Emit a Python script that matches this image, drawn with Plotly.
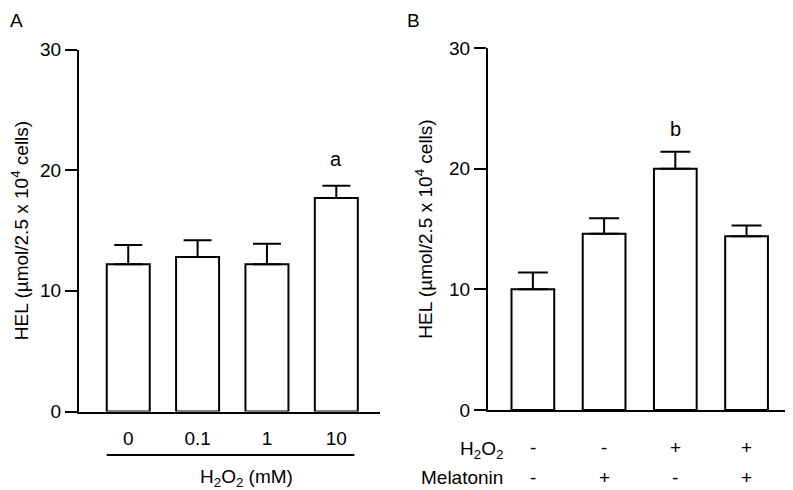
import plotly.graph_objects as go

# panel A: H2O2 dose
dose_labels = ["0", "0.1", "1", "10"]
hel_a = [12.2, 12.8, 12.2, 17.7]
err_a = [1.6, 1.4, 1.7, 1.0]

# panel B: H2O2 / melatonin
groups_b = ["ctrl", "mel", "h2o2", "h2o2_mel"]
hel_b = [10.0, 14.6, 20.0, 14.4]
err_b = [1.4, 1.3, 1.4, 0.9]
h2o2_signs = ["-", "-", "+", "+"]
mel_signs = ["-", "+", "-", "+"]

yticks = [0, 10, 20, 30]
ytitle = "HEL (\u00b5mol/2.5 x 10<sup>4</sup> cells)"
font = "Liberation Sans, Arial, sans-serif"

# page has an 8px body margin, so the figure is shrunk to fit the window
W, H, OFF = 785, 482, 8


def px(p):
    return (p - OFF) / W


def py(p):
    return 1 - (p - OFF) / H


fig = go.Figure()

fig.add_trace(go.Bar(
    x=dose_labels, y=hel_a, width=0.62,
    marker=dict(color="white", line=dict(color="black", width=2)),
    error_y=dict(type="data", symmetric=False, array=err_a, arrayminus=[0] * 4,
                 color="black", thickness=2, width=14),
    xaxis="x", yaxis="y", showlegend=False))

fig.add_trace(go.Bar(
    x=groups_b, y=hel_b, width=0.6,
    marker=dict(color="white", line=dict(color="black", width=2)),
    error_y=dict(type="data", symmetric=False, array=err_b, arrayminus=[0] * 4,
                 color="black", thickness=2, width=15),
    xaxis="x2", yaxis="y2", showlegend=False))

axis_common = dict(showgrid=False, zeroline=False, showline=True, linecolor="black",
                   linewidth=2, automargin=False, tickfont=dict(size=19, color="black"))

fig.update_layout(
    template="none",
    width=W, height=H, autosize=False,
    margin=dict(l=0, r=0, t=0, b=0, pad=0),
    paper_bgcolor="white", plot_bgcolor="white",
    font=dict(family=font, size=19, color="black"),
    xaxis=dict(domain=[px(79), px(380)], type="category", range=[-0.71, 3.63],
               ticks="", ticklabelstandoff=9, anchor="y", **axis_common),
    yaxis=dict(domain=[py(411.5), py(49.5)], range=[0, 30], tickvals=yticks,
               ticks="outside", ticklen=12, tickwidth=2, tickcolor="black",
               title=dict(text=ytitle, font=dict(size=19), standoff=11),
               anchor="x", **axis_common),
    xaxis2=dict(domain=[px(488), px(790)], type="category", range=[-0.63, 3.61],
                showticklabels=False, ticks="", anchor="y2", **axis_common),
    yaxis2=dict(domain=[py(410), py(48)], range=[0, 30], tickvals=yticks,
                ticks="outside", ticklen=12, tickwidth=2, tickcolor="black",
                title=dict(text=ytitle, font=dict(size=19), standoff=11),
                anchor="x2", **axis_common),
)

# line under dose labels
fig.add_shape(type="line", xref="x", yref="paper", x0=-0.31, x1=3.26, y0=py(455), y1=py(455),
              line=dict(color="black", width=2))

ann = []
ann.append(dict(text="H<sub>2</sub>O<sub>2</sub> (mM)", xref="x", yref="paper", x=1.71, y=py(478),
                xanchor="center", yanchor="middle", showarrow=False, font=dict(size=19)))
ann.append(dict(text="A", xref="paper", yref="paper", x=0, y=1.0, xanchor="left",
                yanchor="top", showarrow=False, font=dict(size=19)))
ann.append(dict(text="B", xref="paper", yref="paper", x=px(405), y=1.0, xanchor="left",
                yanchor="top", showarrow=False, font=dict(size=19)))
ann.append(dict(text="a", xref="x", yref="y", x=3, y=hel_a[3] + err_a[3],
                xanchor="center", yanchor="bottom", yshift=14, showarrow=False, font=dict(size=20)))
ann.append(dict(text="b", xref="x2", yref="y2", x=2, y=hel_b[2] + err_b[2],
                xanchor="center", yanchor="bottom", yshift=10, showarrow=False, font=dict(size=20)))
ann.append(dict(text="H<sub>2</sub>O<sub>2</sub>", xref="paper", yref="paper", x=px(505), y=py(450),
                xanchor="right", yanchor="middle", showarrow=False, font=dict(size=19)))
ann.append(dict(text="Melatonin", xref="paper", yref="paper", x=px(505), y=py(477.5),
                xanchor="right", yanchor="middle", showarrow=False, font=dict(size=19)))
for i, (s1, s2) in enumerate(zip(h2o2_signs, mel_signs)):
    ann.append(dict(text=s1, xref="x2", yref="paper", x=i, y=py(447), xanchor="center",
                    yanchor="middle", showarrow=False, font=dict(size=19)))
    ann.append(dict(text=s2, xref="x2", yref="paper", x=i, y=py(477.5), xanchor="center",
                    yanchor="middle", showarrow=False, font=dict(size=19)))
fig.update_layout(annotations=ann)

fig.write_html("out.html")
